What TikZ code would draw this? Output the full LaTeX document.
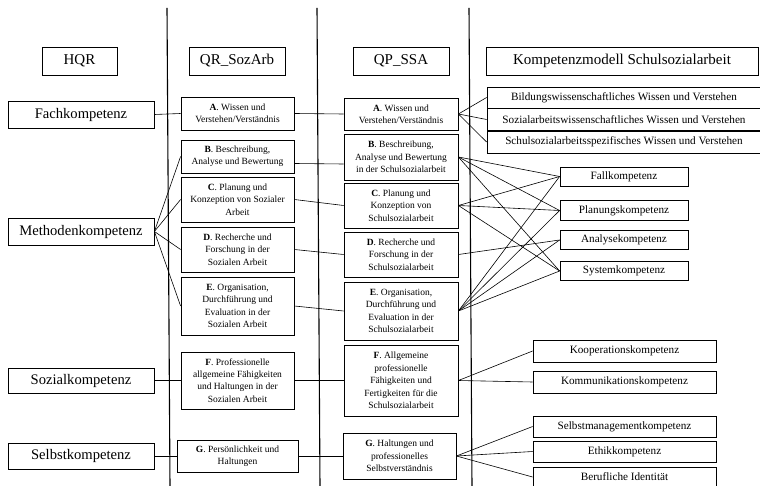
\documentclass[tikz,border=0pt]{standalone}
\usepackage{fontspec}
\setmainfont{Liberation Serif}
\begin{document}
\begin{tikzpicture}[
        x=1pt, y=-1pt,
        box/.style={draw, line width=0.8pt, inner sep=0pt, align=center},
        head/.style={box, font=\fontsize{15}{17}\selectfont, minimum height=28pt},
        hqrbox/.style={box, font=\fontsize{14.6}{17}\selectfont, minimum width=146pt},
        midbox/.style={box, font=\fontsize{9.5}{12.4}\selectfont, minimum width=113pt},
        kbox/.style={box, font=\fontsize{11.2}{13}\selectfont},
        link/.style={line width=0.6pt}
    ]
    \useasboundingbox (0,0) rectangle (760,486);

    % column separators
    \draw[line width=1.1pt] (167,8) -- (170,487);
    \draw[line width=1.1pt] (317,8) -- (320,487);
    \draw[line width=1.1pt] (469,8) -- (472,487);

    % headers
    \node[head, minimum width=75pt] (hqr) at (79.5,61) {HQR};
    \node[head, minimum width=96pt] (qrsoz) at (237,61) {QR\_SozArb};
    \node[head, minimum width=96pt] (qpssa) at (401,61) {QP\_SSA};
    \node[head, minimum width=272pt] (kmodell) at (622,61) {Kompetenzmodell Schulsozialarbeit};

    % HQR
    \node[hqrbox, minimum height=27pt] (fach) at (81,114.5) {Fachkompetenz};
    \node[hqrbox, minimum height=27pt] (methoden) at (81,231.5) {Methodenkompetenz};
    \node[hqrbox, minimum height=25pt] (sozial) at (81,380.5) {Sozialkompetenz};
    \node[hqrbox, minimum height=26pt] (selbst) at (81,456) {Selbstkompetenz};

    % QR_SozArb
    \node[midbox, minimum height=33pt] (qrA) at (237.5,113.5) {\textbf{A}. Wissen und\\Verstehen/Verständnis};
    \node[midbox, minimum height=33pt] (qrB) at (237.5,156.5) {\textbf{B}. Beschreibung,\\Analyse und Bewertung};
    \node[midbox, minimum height=45pt] (qrC) at (237.5,199.5) {\textbf{C}. Planung und\\Konzeption von Sozialer\\Arbeit};
    \node[midbox, minimum height=45pt] (qrD) at (237.5,249.5) {\textbf{D}. Recherche und\\Forschung in der\\Sozialen Arbeit};
    \node[midbox, minimum height=58pt] (qrE) at (237.5,306) {\textbf{E}. Organisation,\\Durchführung und\\Evaluation in der\\Sozialen Arbeit};
    \node[midbox, minimum height=57pt] (qrF) at (237.5,380.5) {\textbf{F}. Professionelle\\allgemeine Fähigkeiten\\und Haltungen in der\\Sozialen Arbeit};
    \node[midbox, minimum width=121pt, minimum height=32pt] (qrG) at (237.5,456) {\textbf{G}. Persönlichkeit und\\Haltungen};

    % QP_SSA
    \node[midbox, minimum width=114pt, minimum height=32pt] (qpA) at (401,114) {\textbf{A}. Wissen und\\Verstehen/Verständnis};
    \node[midbox, minimum width=114pt, minimum height=46pt] (qpB) at (401,157) {\textbf{B}. Beschreibung,\\Analyse und Bewertung\\in der Schulsozialarbeit};
    \node[midbox, minimum width=114pt, minimum height=45pt] (qpC) at (401,205.5) {\textbf{C}. Planung und\\Konzeption von\\Schulsozialarbeit};
    \node[midbox, minimum width=114pt, minimum height=45pt] (qpD) at (401,254.5) {\textbf{D}. Recherche und\\Forschung in der\\Schulsozialarbeit};
    \node[midbox, minimum width=114pt, minimum height=58pt] (qpE) at (401,311) {\textbf{E}. Organisation,\\Durchführung und\\Evaluation in der\\Schulsozialarbeit};
    \node[midbox, minimum width=114pt, minimum height=71pt] (qpF) at (401,380.5) {\textbf{F}. Allgemeine\\professionelle\\Fähigkeiten und\\Fertigkeiten für die\\Schulsozialarbeit};
    \node[midbox, minimum width=113pt, minimum height=46pt] (qpG) at (399.5,456) {\textbf{G}. Haltungen und\\professionelles\\Selbstverständnis};

    % Kompetenzmodell
    \node[kbox, minimum width=274pt, minimum height=21pt] (bildung) at (624,97.5) {Bildungswissenschaftliches Wissen und Verstehen};
    \node[kbox, minimum width=274pt, minimum height=22pt] (sozwiss) at (624,119.5) {Sozialarbeitswissenschaftliches Wissen und Verstehen};
    \node[kbox, minimum width=274pt, minimum height=22pt] (schulspez) at (624,142) {Schulsozialarbeitsspezifisches Wissen und Verstehen};
    \node[kbox, minimum width=128pt, minimum height=19pt] (fall) at (624,176.5) {Fallkompetenz};
    \node[kbox, minimum width=128pt, minimum height=20pt] (planung) at (624,210.5) {Planungskompetenz};
    \node[kbox, minimum width=128pt, minimum height=19pt] (analyse) at (624,240) {Analysekompetenz};
    \node[kbox, minimum width=128pt, minimum height=19pt] (system) at (624,271) {Systemkompetenz};
    \node[kbox, minimum width=183pt, minimum height=22pt] (koop) at (624.5,351) {Kooperationskompetenz};
    \node[kbox, minimum width=183pt, minimum height=22pt] (komm) at (624.5,382) {Kommunikationskompetenz};
    \node[kbox, minimum width=183pt, minimum height=21pt] (selbstman) at (624.5,426.5) {Selbstmanagementkompetenz};
    \node[kbox, minimum width=183pt, minimum height=21pt] (ethik) at (624.5,451.5) {Ethikkompetenz};
    \node[kbox, minimum width=183pt, minimum height=20pt] (beruf) at (624.5,477) {Berufliche Identität};

    % HQR -> QR_SozArb -> QP_SSA
    \draw[link] (fach.east) -- (qrA.west);
    \draw[link] (qrA.east) -- (qpA.west);
    \foreach \n in {qrB,qrC,qrD,qrE}
        \draw[link] (methoden.east) -- (\n.west);
    \draw[link] ([yshift=-7pt]qrB.east) -- ([yshift=-7pt]qpB.west);
    \draw[link] (qrC.east) -- (qpC.west);
    \draw[link] (qrD.east) -- (qpD.west);
    \draw[link] (qrE.east) -- (qpE.west);
    \draw[link] (sozial.east) -- (qrF.west);
    \draw[link] (qrF.east) -- (qpF.west);
    \draw[link] (selbst.east) -- (qrG.west);
    \draw[link] (qrG.east) -- (qpG.west);

    % QP_SSA -> Kompetenzmodell
    \foreach \n in {bildung,sozwiss,schulspez}
        \draw[link] (qpA.east) -- (\n.west);
    \foreach \n in {fall,planung,system}
        \draw[link] (qpB.east) -- (\n.west);
    \foreach \n in {fall,planung,system}
        \draw[link] (qpC.east) -- (\n.west);
    \draw[link] (qpD.east) -- (analyse.west);
    \foreach \n in {fall,planung,analyse,system}
        \draw[link] (qpE.east) -- (\n.west);
    \foreach \n in {koop,komm}
        \draw[link] (qpF.east) -- (\n.west);
    \foreach \n in {selbstman,ethik,beruf}
        \draw[link] (qpG.east) -- (\n.west);
\end{tikzpicture}
\end{document}
